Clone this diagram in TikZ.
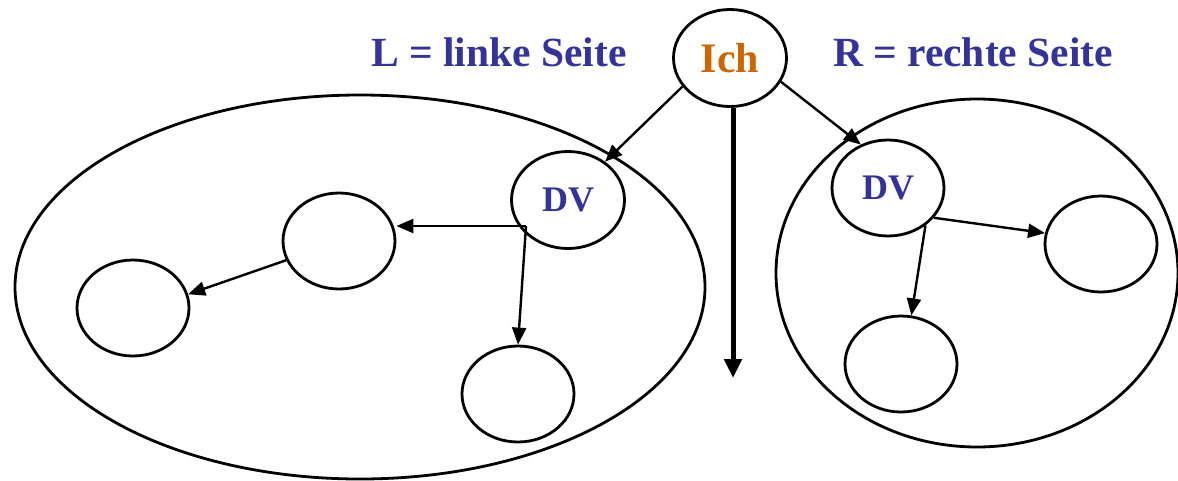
\documentclass[tikz,border=0pt]{standalone}
\usepackage{fontspec}
\setmainfont{Liberation Serif}
\usetikzlibrary{shapes.geometric,arrows.meta}
\definecolor{lblue}{RGB}{51,51,153}
\definecolor{lorange}{RGB}{204,102,0}
\begin{document}
\begin{tikzpicture}[x=1pt,y=-1pt,
  circ/.style={draw,ellipse,line width=2.8pt,inner sep=0pt,minimum width=112pt,minimum height=96pt},
  big/.style={draw,ellipse,line width=2.8pt,inner sep=0pt},
  lab/.style={font=\bfseries\fontsize{41.5}{46}\selectfont,text=lblue},
  dvtext/.style={font=\bfseries\fontsize{36}{40}\selectfont,text=lblue},
  arr/.style={line width=2.4pt,-{Triangle[length=17pt,width=14pt]}},
  thick arr/.style={line width=5pt,-{Triangle[length=19pt,width=17pt]}}]
\useasboundingbox (0,0) rectangle (1178,480);
% big ellipses
\node[big,minimum width=690pt,minimum height=384pt] (lside) at (360,287) {};
\node[big,minimum width=402pt,minimum height=348pt] (rside) at (977,273) {};
% labels
\node[lab] (ltext) at (499,52) {L = linke Seite};
\node[lab] (rtext) at (973,52) {R = rechte Seite};
% Ich
\node[circ,minimum width=113pt,minimum height=97pt,font=\bfseries\fontsize{42}{46}\selectfont,text=lorange] (ich) at (730,58) {Ich};
% left side
\node[circ,minimum width=113pt,minimum height=97pt,dvtext] (ldv) at (568,200) {DV};
\node[circ] (la) at (339,241) {};
\node[circ] (lb) at (133,308) {};
\node[circ] (lc) at (518,394) {};
\coordinate (fork) at (526,226);
% right side
\node[circ,dvtext] (rdv) at (888,188) {DV};
\node[circ] (rd) at (1101,244) {};
\node[circ] (re) at (901,364) {};
% connectors
\coordinate (down) at (733,378);
\draw[arr] (ich.211) -- (ldv.46);
\draw[arr] (ich.335) -- (rdv.122);
\draw[thick arr] (ich.south -| down) -- (down);
\draw[arr] (fork) -- (fork -| la.east);
\draw[arr] (fork) -- (lc.north);
\draw[arr] (la.200) -- (lb.14);
\draw[arr] (rdv.-33) -- (rd.169);
\draw[arr] (rdv.315) -- (re.78);
\end{tikzpicture}
\end{document}
